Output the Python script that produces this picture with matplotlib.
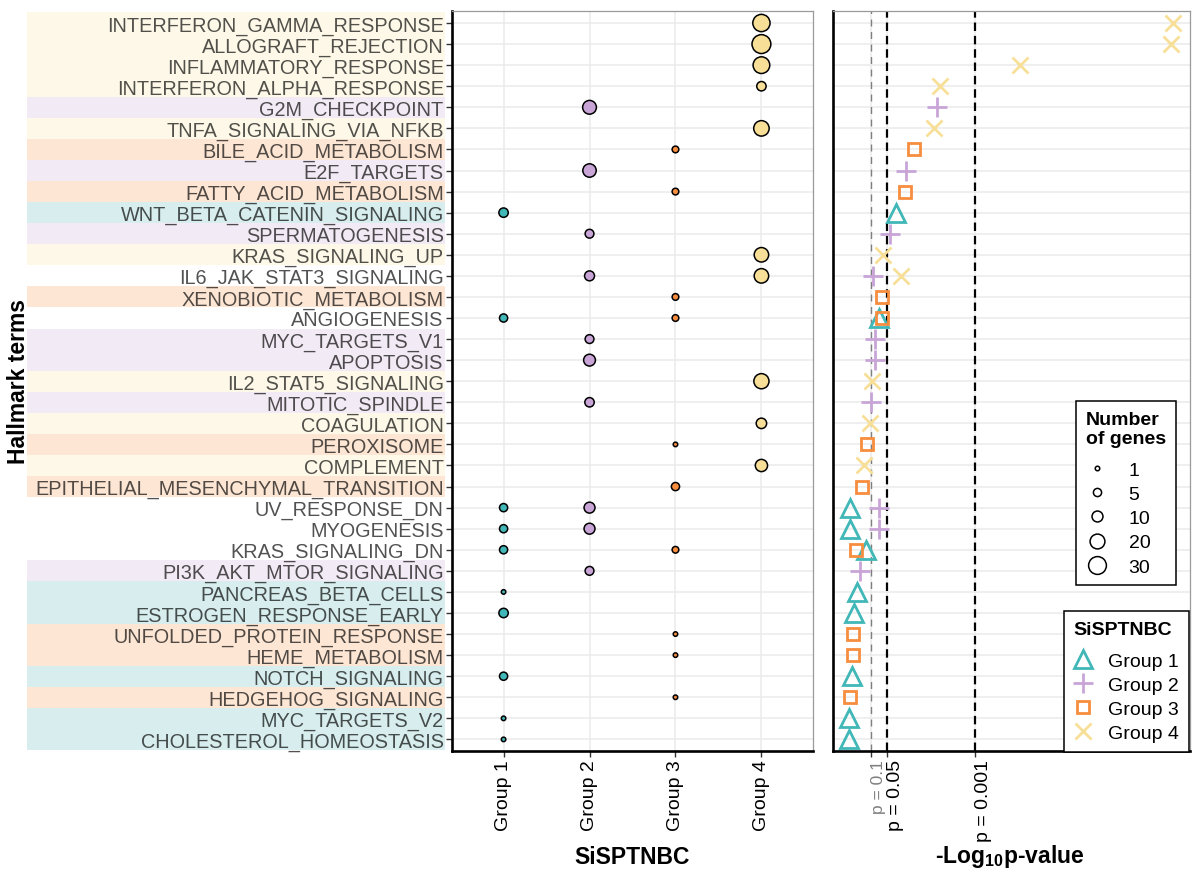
import matplotlib
matplotlib.use('Agg')
import matplotlib.pyplot as plt
import numpy as np
from matplotlib.lines import Line2D
from matplotlib.patches import Rectangle
import matplotlib.transforms as mtransforms

plt.rcParams['font.family'] = ['Liberation Sans', 'DejaVu Sans']
plt.rcParams['mathtext.fontset'] = 'custom'
plt.rcParams['mathtext.rm'] = 'Liberation Sans'
plt.rcParams['mathtext.bf'] = 'Liberation Sans:bold'

# ---------------- data ----------------
terms = [
    "INTERFERON_GAMMA_RESPONSE", "ALLOGRAFT_REJECTION", "INFLAMMATORY_RESPONSE",
    "INTERFERON_ALPHA_RESPONSE", "G2M_CHECKPOINT", "TNFA_SIGNALING_VIA_NFKB",
    "BILE_ACID_METABOLISM", "E2F_TARGETS", "FATTY_ACID_METABOLISM",
    "WNT_BETA_CATENIN_SIGNALING", "SPERMATOGENESIS", "KRAS_SIGNALING_UP",
    "IL6_JAK_STAT3_SIGNALING", "XENOBIOTIC_METABOLISM", "ANGIOGENESIS",
    "MYC_TARGETS_V1", "APOPTOSIS", "IL2_STAT5_SIGNALING", "MITOTIC_SPINDLE",
    "COAGULATION", "PEROXISOME", "COMPLEMENT", "EPITHELIAL_MESENCHYMAL_TRANSITION",
    "UV_RESPONSE_DN", "MYOGENESIS", "KRAS_SIGNALING_DN", "PI3K_AKT_MTOR_SIGNALING",
    "PANCREAS_BETA_CELLS", "ESTROGEN_RESPONSE_EARLY", "UNFOLDED_PROTEIN_RESPONSE",
    "HEME_METABOLISM", "NOTCH_SIGNALING", "HEDGEHOG_SIGNALING", "MYC_TARGETS_V2",
    "CHOLESTEROL_HOMEOSTASIS",
]
groups = ["Group 1", "Group 2", "Group 3", "Group 4"]

rec_term = [
    "INTERFERON_GAMMA_RESPONSE", "ALLOGRAFT_REJECTION", "INFLAMMATORY_RESPONSE",
    "INTERFERON_ALPHA_RESPONSE", "G2M_CHECKPOINT", "TNFA_SIGNALING_VIA_NFKB",
    "BILE_ACID_METABOLISM", "E2F_TARGETS", "FATTY_ACID_METABOLISM",
    "WNT_BETA_CATENIN_SIGNALING", "SPERMATOGENESIS", "KRAS_SIGNALING_UP",
    "IL6_JAK_STAT3_SIGNALING", "IL6_JAK_STAT3_SIGNALING", "XENOBIOTIC_METABOLISM",
    "ANGIOGENESIS", "ANGIOGENESIS", "MYC_TARGETS_V1", "APOPTOSIS",
    "IL2_STAT5_SIGNALING", "MITOTIC_SPINDLE", "COAGULATION", "PEROXISOME",
    "COMPLEMENT", "EPITHELIAL_MESENCHYMAL_TRANSITION",
    "UV_RESPONSE_DN", "UV_RESPONSE_DN", "MYOGENESIS", "MYOGENESIS",
    "KRAS_SIGNALING_DN", "KRAS_SIGNALING_DN", "PI3K_AKT_MTOR_SIGNALING",
    "PANCREAS_BETA_CELLS", "ESTROGEN_RESPONSE_EARLY", "UNFOLDED_PROTEIN_RESPONSE",
    "HEME_METABOLISM", "NOTCH_SIGNALING", "HEDGEHOG_SIGNALING", "MYC_TARGETS_V2",
    "CHOLESTEROL_HOMEOSTASIS",
]
rec_group = [4, 4, 4, 4, 2, 4, 3, 2, 3, 1, 2, 4, 2, 4, 3, 1, 3, 2, 2, 4, 2, 4, 3,
             4, 3, 1, 2, 1, 2, 1, 3, 2, 1, 1, 3, 3, 1, 3, 1, 1]
rec_genes = [28, 34, 26, 7, 17, 22, 3, 16, 3, 7, 6, 19, 8, 19, 3, 5, 3, 6, 12, 21,
             7, 9, 1, 13, 5, 5, 10, 5, 10, 5, 3, 6, 1, 7, 1, 1, 5, 1, 1, 1]
rec_logp = [6.82, 6.78, 3.87, 2.32, 2.27, 2.20, 1.82, 1.67, 1.65, 1.48, 1.36, 1.23,
            1.04, 1.58, 1.21, 1.15, 1.21, 1.08, 1.07, 1.02, 0.99, 0.97, 0.92, 0.86,
            0.82, 0.59, 1.15, 0.59, 1.15, 0.89, 0.70, 0.78, 0.72, 0.67, 0.65, 0.65,
            0.63, 0.59, 0.57, 0.57]

p_thresholds = [0.1, 0.05, 0.001]
p_labels = ["p = 0.1", "p = 0.05", "p = 0.001"]
size_breaks = [1, 5, 10, 20, 30]

# ---------------- styles ----------------
fill_colors = ['#41B7B7', '#C9A5D7', '#F78D3F', '#F8DF98']
bg_colors = ['#D8EDEE', '#F2EAF4', '#FDE6D4', '#FDF8E7']
markers = ['^', '+', 's', 'x']
msizes = [12.5, 14, 9, 11]
grid_c = '#EBEBEB'


def ms_from_genes(n):
    d_px = 6 + 2.97 * (np.sqrt(n) - 1) - 1.5
    return d_px * 0.72


def area_from_genes(n):
    return ms_from_genes(n) ** 2


nT = len(terms)
ypos = {t: nT - i for i, t in enumerate(terms)}

fig = plt.figure(figsize=(12, 8.79), dpi=100)
W, H = 1200, 879
ax1 = fig.add_axes([452 / W, 1 - 752 / H, 361 / W, 740 / H])
ax2 = fig.add_axes([833 / W, 1 - 752 / H, 357 / W, 740 / H])

ylim = (0.45, nT + 0.57)

# ---------- left panel ----------
xs = np.array(rec_group)
ys = np.array([ypos[t] for t in rec_term])
ss = np.array([area_from_genes(n) for n in rec_genes])
cs = [fill_colors[g - 1] for g in rec_group]
ax1.scatter(xs, ys, s=ss, c=cs, edgecolors='black', linewidths=1.1, zorder=3)
ax1.set_xlim(0.4, 4.6)
ax1.set_ylim(*ylim)
ax1.set_xticks(range(1, 5))
ax1.set_xticklabels(groups, rotation=90, fontsize=14, color='black')
ax1.set_yticks([ypos[t] for t in terms])
ax1.set_yticklabels(terms, fontsize=14.3)
for lab in ax1.get_yticklabels():
    lab.set_color('black')
    lab.set_alpha(0.68)
ax1.tick_params(axis='both', length=4, width=1.0, color='#333333', pad=2)
ax1.grid(True, color=grid_c, lw=1.1)
ax1.set_axisbelow(True)

# ---------- right panel ----------
for g in range(4):
    gx = [p for p, gg in zip(rec_logp, rec_group) if gg == g + 1]
    gy = [ypos[t] for t, gg in zip(rec_term, rec_group) if gg == g + 1]
    ax2.plot(gx, gy, ls='', marker=markers[g], ms=msizes[g], mfc='none',
             mec=fill_colors[g], mew=2.0, zorder=3)
pvals_x = [-np.log10(p) for p in p_thresholds]
ax2.axvline(pvals_x[0], color='#7f7f7f', lw=1.0, ls=(0, (5, 4)), zorder=2)
ax2.axvline(pvals_x[1], color='black', lw=1.6, ls=(0, (3.8, 2.2)), zorder=2)
ax2.axvline(pvals_x[2], color='black', lw=1.6, ls=(0, (3.8, 2.2)), zorder=2)
ax2.set_xlim(0.26, 7.15)
ax2.set_ylim(*ylim)
ax2.set_yticks([ypos[t] for t in terms])
ax2.set_yticklabels([])
ax2.tick_params(axis='y', length=0)
ax2.set_xticks(pvals_x)
ax2.set_xticklabels(p_labels, rotation=90, ha='left', va='top', fontsize=14)
xl = ax2.get_xticklabels()
xl[0].set_color('#7f7f7f')
xl[0].set_fontsize(12.5)
ax2.tick_params(axis='x', length=4, width=1.0, color='#333333', pad=2)
ax2.grid(True, color=grid_c, lw=1.1)
ax2.set_axisbelow(True)

for ax in (ax1, ax2):
    for side in ('top', 'right'):
        ax.spines[side].set_color('#9a9a9a')
        ax.spines[side].set_linewidth(0.9)
    for side in ('left', 'bottom'):
        ax.spines[side].set_color('black')
        ax.spines[side].set_linewidth(1.9)

# ---------- label backgrounds ----------
term_groups = {}
for t, g in zip(rec_term, rec_group):
    term_groups.setdefault(t, set()).add(g)
trans = mtransforms.blended_transform_factory(fig.transFigure, ax1.transData)
for t in terms:
    gs = term_groups[t]
    if len(gs) == 1:
        g = list(gs)[0]
        fig.add_artist(Rectangle((27 / W, ypos[t] - 0.5), (445 - 27) / W, 1.0,
                                 transform=trans, facecolor=bg_colors[g - 1],
                                 edgecolor='none', zorder=-1))

# ---------- axis titles ----------
fig.text(632 / W, 1 - 858 / H, "SiSPTNBC", ha='center', va='center',
         fontsize=16.5, fontweight='bold')
fig.text(1010 / W, 1 - 857 / H, r"-Log$_{\mathbf{10}}$p-value", ha='center',
         va='center', fontsize=16.5, fontweight='bold')
fig.text(19 / W, 1 - 382 / H, "Hallmark terms", ha='center', va='center',
         rotation=90, fontsize=16.5, fontweight='bold')

# ---------- legends ----------
size_handles = [Line2D([], [], ls='', marker='o', mfc='none', mec='black',
                       mew=1.1, ms=ms_from_genes(n)) for n in size_breaks]
leg1 = ax2.legend(size_handles, [str(n) for n in size_breaks],
                  title="Number\nof genes", loc='upper left',
                  bbox_to_anchor=(1076 / W, 1 - 402 / H),
                  bbox_transform=fig.transFigure, borderaxespad=0,
                  fontsize=14, title_fontproperties={'weight': 'bold', 'size': 14},
                  frameon=True, fancybox=False, edgecolor='black',
                  framealpha=1, alignment='left', labelspacing=0.34,
                  handlelength=1.2, handletextpad=1.0, borderpad=0.5)
leg1.get_frame().set_linewidth(1.1)
leg1._legend_box.sep = 10.0
ax2.add_artist(leg1)

grp_handles = [Line2D([], [], ls='', marker=markers[g], ms=msizes[g], mfc='none',
                      mec=fill_colors[g], mew=2.0) for g in range(4)]
leg2 = ax2.legend(grp_handles, groups, title="SiSPTNBC", loc='lower right',
                  bbox_to_anchor=(1189 / W, 1 - 753 / H),
                  bbox_transform=fig.transFigure, borderaxespad=0,
                  fontsize=14, title_fontproperties={'weight': 'bold', 'size': 14},
                  frameon=True, fancybox=False, edgecolor='black',
                  framealpha=1, alignment='left', labelspacing=0.34,
                  handlelength=1.0, handletextpad=0.8, borderpad=0.5)
leg2.get_frame().set_linewidth(1.1)
leg2._legend_box.sep = 10.0

fig.savefig('out.png', dpi=100)
